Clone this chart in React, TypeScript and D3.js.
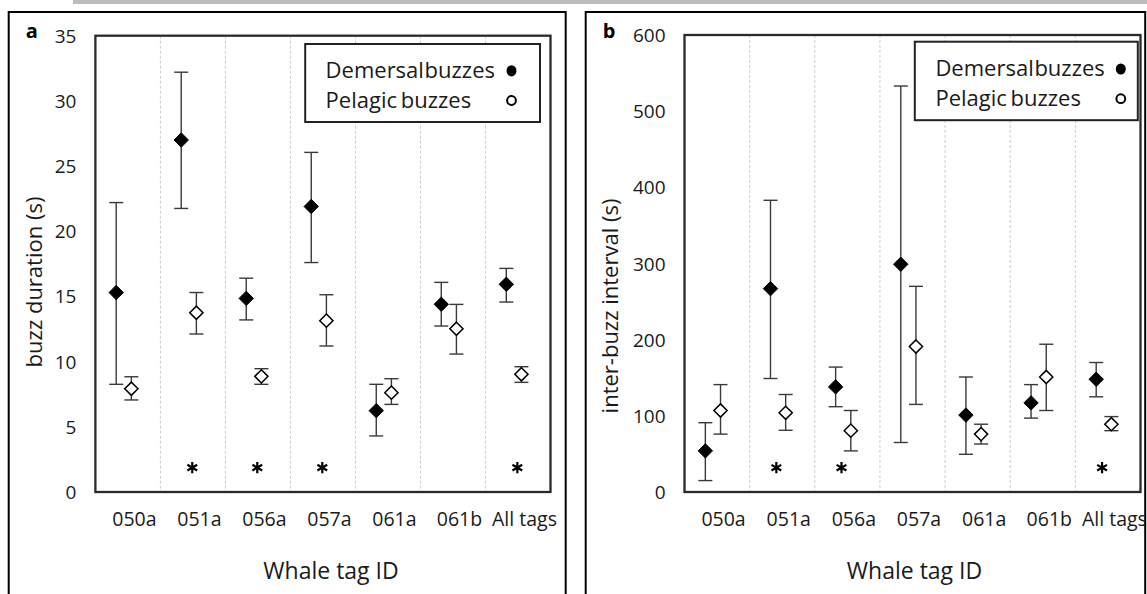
import * as d3 from 'd3';

// Buzz duration and inter-buzz interval per whale tag: mean with CI bars.
const TAGS = ['050a', '051a', '056a', '057a', '061a', '061b', 'All tags'];

// panel a: buzz duration (s)
const DUR_DEM_MEAN = [15.3, 27.0, 14.85, 21.9, 6.24, 14.4, 15.93];
const DUR_DEM_HI   = [22.2, 32.2, 16.4, 26.05, 8.26, 16.08, 17.15];
const DUR_DEM_LO   = [8.26, 21.75, 13.2, 17.6, 4.3, 12.73, 14.57];
const DUR_PEL_MEAN = [7.92, 13.75, 8.87, 13.14, 7.62, 12.52, 9.03];
const DUR_PEL_HI   = [8.84, 15.3, 9.46, 15.13, 8.69, 14.39, 9.61];
const DUR_PEL_LO   = [7.06, 12.12, 8.26, 11.2, 6.72, 10.58, 8.41];
const DUR_SIG      = ['051a', '056a', '057a', 'All tags'];
const DUR_TICKS    = [0, 5, 10, 15, 20, 25, 30, 35];

// panel b: inter-buzz interval (s)
const IBI_DEM_MEAN = [54, 267, 138, 299, 101, 117, 148];
const IBI_DEM_HI   = [91, 383, 164, 533, 151, 141, 170];
const IBI_DEM_LO   = [15, 149, 112, 65, 49.5, 97, 125];
const IBI_PEL_MEAN = [107, 104, 80.5, 191, 76, 151, 89];
const IBI_PEL_HI   = [141, 128, 107, 270, 89, 194, 99];
const IBI_PEL_LO   = [76, 81, 54, 115, 63, 107, 80.5];
const IBI_SIG      = ['051a', '056a', 'All tags'];
const IBI_TICKS    = [0, 100, 200, 300, 400, 500, 600];

const FONT = "'Open Sans', sans-serif";
const TEXT = '#1a1a1a';
const BAR  = '#3a3a3a';

interface Series { mean: number[]; hi: number[]; lo: number[] }

interface PanelProps {
  letter:   string;
  yTitle:   string;
  frame:    { x: number; y: number; w: number; h: number };
  plot:     { l: number; r: number; t: number; b: number };
  yMax:     number;
  ticks:    number[];
  dem:      Series;
  pel:      Series;
  sig:      string[];
  sigLevel: number;
  sigFrac:  number;
  legend:   { x: number; y: number; w: number; h: number; tx: number; mx: number; y1: number; y2: number };
  yTitleX:  number;
  yTitleY:  number;
  titleX:   number;
}

function diamond(cx: number, cy: number, r: number) {
  return `M${cx},${cy - r}L${cx + r},${cy}L${cx},${cy + r}L${cx - r},${cy}Z`;
}

function Panel(p: PanelProps) {
  const x = d3.scaleBand<string>().domain(TAGS).range([p.plot.l, p.plot.r]).paddingInner(0).paddingOuter(0);
  const y = d3.scaleLinear().domain([0, p.yMax]).range([p.plot.b, p.plot.t]);
  const bw = x.bandwidth();
  const demX = (t: string) => (x(t) ?? 0) + bw * 0.32;
  const pelX = (t: string) => (x(t) ?? 0) + bw * 0.553;
  const star = d3.symbol().type(d3.symbolAsterisk).size(90)();

  const bars = (s: Series, px: (t: string) => number, filled: boolean) =>
    TAGS.map((t, i) => {
      const cx = px(t);
      return (
        <g key={`${t}-${filled}`}>
          <line x1={cx} x2={cx} y1={y(s.hi[i])} y2={y(s.lo[i])} stroke={BAR} strokeWidth={1.4} />
          <line x1={cx - 7} x2={cx + 7} y1={y(s.hi[i])} y2={y(s.hi[i])} stroke={BAR} strokeWidth={1.4} />
          <line x1={cx - 7} x2={cx + 7} y1={y(s.lo[i])} y2={y(s.lo[i])} stroke={BAR} strokeWidth={1.4} />
          <path
            d={diamond(cx, y(s.mean[i]), filled ? 7.2 : 6.6)}
            fill={filled ? '#000' : '#fff'}
            stroke="#000"
            strokeWidth={filled ? 1 : 1.5}
          />
        </g>
      );
    });

  return (
    <g>
      {/* outer frame */}
      <rect x={p.frame.x} y={p.frame.y} width={p.frame.w} height={p.frame.h} fill="#fff" stroke="#000" strokeWidth={2} />
      <text x={p.frame.x + 17} y={p.frame.y + 26} fontFamily={FONT} fontWeight={700} fontSize={20} fill="#000">
        {p.letter}
      </text>

      {/* gridlines between categories */}
      {TAGS.slice(1).map((t) => (
        <line
          key={t}
          x1={x(t)} x2={x(t)} y1={p.plot.t} y2={p.plot.b}
          stroke="#cdcdcd" strokeWidth={1} strokeDasharray="3 2"
        />
      ))}

      {/* y ticks */}
      {p.ticks.map((v) => (
        <text
          key={v}
          x={p.plot.l - 19} y={y(v)}
          textAnchor="end" dominantBaseline="central"
          fontFamily={FONT} fontSize={19} fill={TEXT}
        >
          {v}
        </text>
      ))}

      {/* category labels */}
      {TAGS.map((t) => (
        <text
          key={t}
          x={(x(t) ?? 0) + bw * 0.6} y={p.plot.b + 34}
          textAnchor="middle"
          fontFamily={FONT} fontSize={19.5} fill={TEXT}
        >
          {t}
        </text>
      ))}

      {bars(p.dem, demX, true)}
      {bars(p.pel, pelX, false)}

      {/* significance markers */}
      {p.sig.map((t) => (
        <path
          key={t}
          d={star ?? ''}
          transform={`translate(${(x(t) ?? 0) + bw * p.sigFrac},${y(p.sigLevel)})`}
          fill="none" stroke="#000" strokeWidth={2.2}
        />
      ))}

      {/* plot border */}
      <rect
        x={p.plot.l} y={p.plot.t} width={p.plot.r - p.plot.l} height={p.plot.b - p.plot.t}
        fill="none" stroke="#2a2a2a" strokeWidth={2.3}
      />

      {/* legend */}
      <rect x={p.legend.x} y={p.legend.y} width={p.legend.w} height={p.legend.h} fill="#fff" stroke="#222" strokeWidth={2} />
      <text x={p.legend.tx} y={p.legend.y1 + 7} fontFamily={FONT} fontSize={22} fill={TEXT} wordSpacing={-5}>
        Demersal buzzes
      </text>
      <text x={p.legend.tx} y={p.legend.y2 + 7} fontFamily={FONT} fontSize={22} fill={TEXT} wordSpacing={-2}>
        Pelagic buzzes
      </text>
      <ellipse cx={p.legend.mx} cy={p.legend.y1} rx={5} ry={5.6} fill="#000" />
      <circle cx={p.legend.mx} cy={p.legend.y2} r={4.4} fill="#fff" stroke="#000" strokeWidth={2} />

      {/* axis titles */}
      <text
        transform={`translate(${p.yTitleX},${p.yTitleY}) rotate(-90)`}
        textAnchor="middle" dominantBaseline="central"
        fontFamily={FONT} fontSize={22} fill={TEXT}
      >
        {p.yTitle}
      </text>
      <text x={p.titleX} y={579} textAnchor="middle" fontFamily={FONT} fontSize={23} fill={TEXT}>
        Whale tag ID
      </text>
    </g>
  );
}

export default function App() {
  return (
    <svg width={1147} height={594} style={{ position: 'absolute', left: 0, top: 0, background: '#fff' }}>
      <rect x={73} y={0} width={1074} height={4} fill="#bdbdbd" />
      <Panel
        letter="a"
        yTitle="buzz duration (s)"
        frame={{ x: 8.7, y: 12, w: 557, h: 600 }}
        plot={{ l: 95.4, r: 550.5, t: 35.7, b: 492 }}
        yMax={35}
        ticks={DUR_TICKS}
        dem={{ mean: DUR_DEM_MEAN, hi: DUR_DEM_HI, lo: DUR_DEM_LO }}
        pel={{ mean: DUR_PEL_MEAN, hi: DUR_PEL_HI, lo: DUR_PEL_LO }}
        sig={DUR_SIG}
        sigLevel={1.87}
        sigFrac={0.49}
        legend={{ x: 305.2, y: 44, w: 234.8, h: 78, tx: 325.6, mx: 511.5, y1: 70.8, y2: 100.5 }}
        yTitleX={33}
        yTitleY={282}
        titleX={331}
      />
      <Panel
        letter="b"
        yTitle="inter-buzz interval (s)"
        frame={{ x: 585.7, y: 12, w: 559.5, h: 600 }}
        plot={{ l: 684.5, r: 1140.5, t: 35, b: 492 }}
        yMax={600}
        ticks={IBI_TICKS}
        dem={{ mean: IBI_DEM_MEAN, hi: IBI_DEM_HI, lo: IBI_DEM_LO }}
        pel={{ mean: IBI_PEL_MEAN, hi: IBI_PEL_HI, lo: IBI_PEL_LO }}
        sig={IBI_SIG}
        sigLevel={31.9}
        sigFrac={0.41}
        legend={{ x: 914.8, y: 41.7, w: 223, h: 78.5, tx: 935.4, mx: 1120.8, y1: 69, y2: 98.7 }}
        yTitleX={609}
        yTitleY={306}
        titleX={914.5}
      />
    </svg>
  );
}
